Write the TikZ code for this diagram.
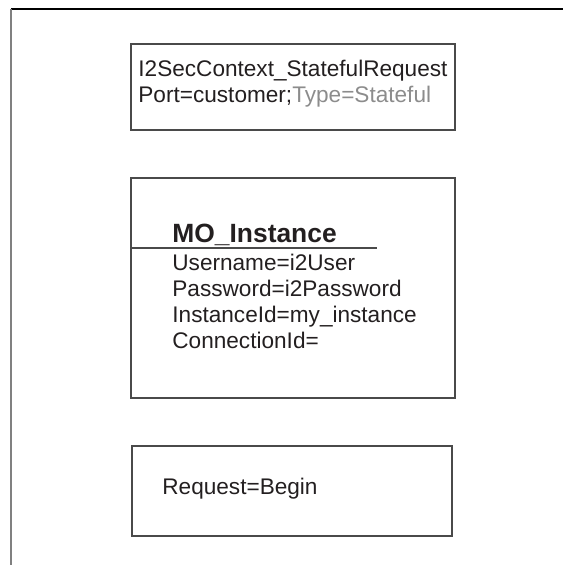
\documentclass[tikz,border=0pt]{standalone}
\usepackage{fontspec}
\setmainfont{Liberation Sans}
\usetikzlibrary{positioning}
\definecolor{boxline}{HTML}{4A4A4A}
\definecolor{inktext}{HTML}{231F20}
\definecolor{greytext}{HTML}{8C8C8C}
\tikzset{
  box/.style={draw=boxline, line width=0.7pt, inner sep=0pt},
  field/.style={anchor=base west, inner sep=0pt, text=inktext, font=\fontsize{11.3pt}{13pt}\selectfont},
  title/.style={field, font=\bfseries\fontsize{13.2pt}{15pt}\selectfont},
}

\begin{document}
\begin{tikzpicture}[x=0.5pt,y=-0.5pt]
  \useasboundingbox (0,0) rectangle (563,565);
  % frame
  \coordinate (frameTL) at (11,9);
  \coordinate (frameTR) at (563,9);
  \coordinate (frameBL) at (11,565);
  \draw[black, line width=0.6pt] (frameTL) -- (frameTR);
  \draw[gray, line width=1pt] (frameTL) -- (frameBL);

  % context box
  \node[box, minimum width=162pt, minimum height=43pt] (ctx) at (293,87) {};
  \node[field] (ctxname) at (138,77) {I2SecContext\_StatefulRequest};
  \node[field] (ctxport) at (138,103) {Port=customer;\textcolor{greytext}{Type=Stateful}};

  % instance box
  \node[box, minimum width=162pt, minimum height=110pt] (mo) at (293,288) {};
  \node[title] (moname) at (172,243) {MO\_Instance};
  \coordinate (divEnd) at (377,248);
  \draw[boxline, line width=0.6pt] (divEnd -| mo.west) -- (divEnd);
  \foreach \txt [count=\i] in {Username=i2User, Password=i2Password, InstanceId=my\_instance, ConnectionId=}
    \node[field] (attr\i) at (172,245+26*\i) {\txt};

  % request box
  \node[box, minimum width=160pt, minimum height=45pt] (req) at (292,491) {};
  \node[field] (reqtext) at (162,494) {Request=Begin};
\end{tikzpicture}
\end{document}
